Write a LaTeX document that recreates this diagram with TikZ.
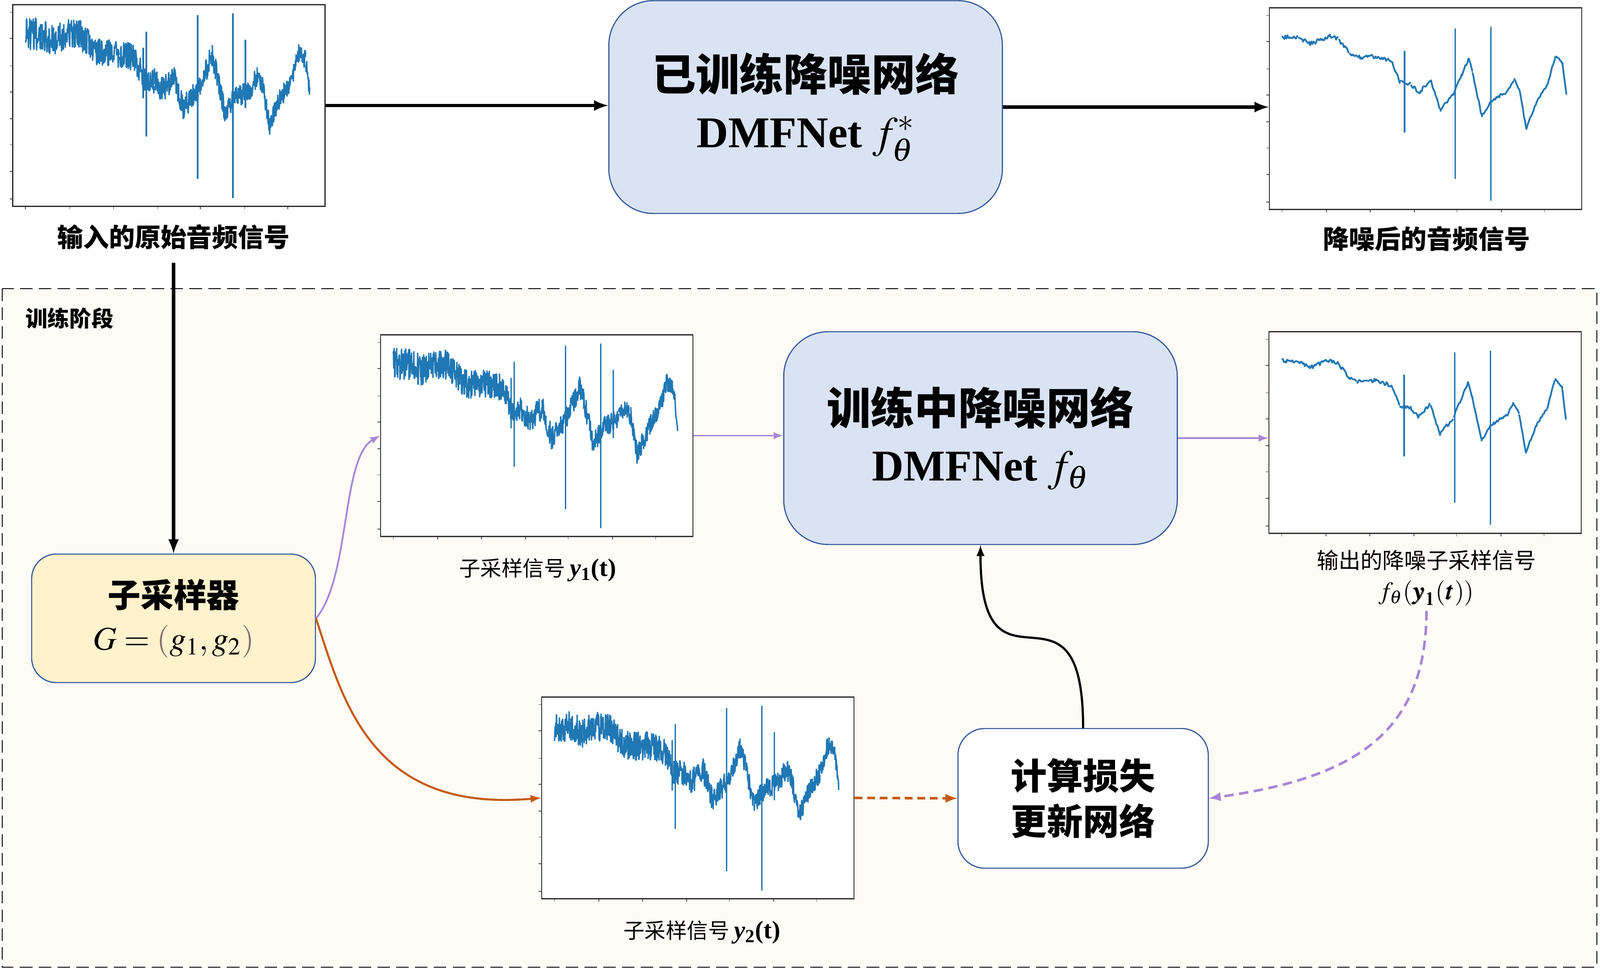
\documentclass[tikz,border=0pt]{standalone}
\usepackage{mathptmx}
\usepackage{bm}
\usepackage[no-math]{fontspec}
\setmainfont{Noto Sans CJK SC}
\newfontfamily\tnr{Liberation Serif}
\usepackage{tikz}
\tikzset{>=latex}

\definecolor{sigblue}{HTML}{1F77B4}
\definecolor{netblue}{HTML}{DAE3F3}
\definecolor{edgeblue}{HTML}{2F5597}
\definecolor{sampleryellow}{HTML}{FFF2CC}
\definecolor{stagebg}{HTML}{FFFBF7}
\definecolor{lilac}{HTML}{A886D6}
\definecolor{rust}{HTML}{C55A11}
\definecolor{parengray}{HTML}{7F7272}

\tikzset{
  plotbox/.style={draw=black!80, line width=0.8pt, fill=white, minimum width=7cm, minimum height=4.52cm, inner sep=0pt},
  netbox/.style={draw=edgeblue, line width=0.7pt, fill=netblue, rounded corners=1cm, minimum width=8.82cm, minimum height=4.77cm, align=center, font=\bfseries\fontsize{28}{36}\selectfont},
  samplerbox/.style={draw=edgeblue, line width=0.7pt, fill=sampleryellow, rounded corners=0.55cm, minimum width=6.36cm, minimum height=2.88cm, align=center, font=\fontsize{21}{27}\selectfont},
  lossbox/.style={draw=edgeblue, line width=0.7pt, fill=white, rounded corners=0.6cm, minimum width=5.61cm, minimum height=3.13cm, align=center, font=\bfseries\fontsize{23}{29}\selectfont},
  biglbl/.style={font=\bfseries\fontsize{16.5}{20}\selectfont},
  smalllbl/.style={font=\fontsize{13.5}{17}\selectfont},
  outlbl/.style={align=center, font=\fontsize{14}{19.5}\selectfont},
  stagelbl/.style={font=\bfseries\fontsize{14}{17}\selectfont},
  stagebox/.style={draw=black, line width=0.8pt, dash pattern=on 8pt off 4pt, fill=stagebg},
  bigarrow/.style={->, line width=2.1pt},
  lilacarrow/.style={->, draw=lilac, line width=1.1pt},
  rustarrow/.style={->, draw=rust, line width=1.3pt},
  noisy/.style={sigblue, line width=0.9pt, line join=round},
  clean/.style={sigblue, line width=1.1pt, line join=round},
  spike/.style={sigblue, line width=1pt},
  tick/.style={black!70, line width=0.4pt}
}

% signal trace in a unit box: #1 style, #2 noise, #3 sample step
\newcommand{\wavecurve}[3]{%
  \foreach \kx/\ky [remember=\kx as \px (initially 0.043), remember=\ky as \py (initially 0.858)] in
    {0.094/0.858, 0.133/0.825, 0.197/0.863, 0.223/0.847, 0.258/0.78, 0.283/0.758, 0.343/0.762,
     0.395/0.736, 0.42/0.633, 0.455/0.626, 0.48/0.58, 0.519/0.643, 0.549/0.493, 0.567/0.53,
     0.592/0.574, 0.618/0.67, 0.64/0.751, 0.652/0.685, 0.682/0.464, 0.712/0.538, 0.764/0.589,
     0.785/0.648, 0.803/0.596, 0.824/0.405, 0.858/0.538, 0.893/0.626, 0.918/0.766, 0.94/0.729,
     0.953/0.567}{
    \pgfmathtruncatemacro\nsamp{max(3,(\kx-\px)/#3)}
    \draw[#1] plot[domain=0:1, samples=\nsamp, variable=\s]
      ({\px+(\kx-\px)*\s}, {\py+(\ky-\py)*\s+#2*(1.25-0.6*\px)*rand});
  }}
\newcommand{\waveticks}{%
  \foreach \tk in {0.043,0.185,0.325,0.466,0.603,0.745,0.883}
    \draw[tick] (\tk,0) -- ++(0pt,-1.5pt);
  \foreach \tk in {0.04,0.177,0.309,0.438,0.571,0.70,0.836,0.965}
    \draw[tick] (0,\tk) -- ++(-1.5pt,0pt);}
\newcommand{\noisywave}[1]{%
  \begin{scope}[shift={(#1.south west)}, x=7cm, y=4.52cm]
    \wavecurve{noisy}{0.065}{0.001}
    \draw[spike] (0.42,0.79) -- (0.42,0.54);
    \draw[spike] (0.43,0.87) -- (0.43,0.35);
    \draw[spike] (0.594,0.95) -- (0.594,0.14);
    \draw[spike] (0.707,0.96) -- (0.707,0.045);
    \draw[spike] (0.747,0.83) -- (0.747,0.49);
    \waveticks
  \end{scope}}
\newcommand{\cleanwave}[1]{%
  \begin{scope}[shift={(#1.south west)}, x=7cm, y=4.52cm]
    \wavecurve{clean}{0.009}{0.003}
    \draw[spike] (0.435,0.79) -- (0.435,0.385);
    \draw[spike] (0.597,0.9) -- (0.597,0.155);
    \draw[spike] (0.711,0.91) -- (0.711,0.047);
    \waveticks
  \end{scope}}

\begin{document}
\begin{tikzpicture}
    \useasboundingbox (0,0) rectangle (35.86,-21.72);
    \draw[stagebox] (0.05,-6.47) rectangle (35.79,-21.68);
    \node[stagelbl, anchor=west] (stage) at (0.45,-7.14) {训练阶段};

    % signal plots
    \node[plotbox] (in) at (3.785,-2.365) {};
    \node[plotbox] (out) at (31.95,-2.435) {};
    \node[plotbox] (y1) at (12.03,-9.765) {};
    \node[plotbox] (fy1) at (31.94,-9.695) {};
    \node[plotbox] (y2) at (15.64,-17.885) {};
    \noisywave{in}
    \cleanwave{out}
    \noisywave{y1}
    \cleanwave{fy1}
    \noisywave{y2}

    \node[biglbl] (inlbl) at (3.89,-5.31) {输入的原始音频信号};
    \node[biglbl] (outlbl) at (31.97,-5.35) {降噪后的音频信号};
    \node[smalllbl] (y1lbl) at (12.05,-12.78) {子采样信号\ {\tnr\fontsize{16}{17}\selectfont\bfseries\itshape y}{\tnr\fontsize{16}{17}\selectfont\bfseries\textsubscript{1}(t)}};
    \node[smalllbl] (y2lbl) at (15.73,-20.90) {子采样信号\ {\tnr\fontsize{16}{17}\selectfont\bfseries\itshape y}{\tnr\fontsize{16}{17}\selectfont\bfseries\textsubscript{2}(t)}};
    \node[outlbl] (fy1lbl) at (31.97,-12.95) {输出的降噪子采样信号\\{\fontsize{16}{19.5}\selectfont$f_{\theta}(\bm{y}_{\bm{1}}(\bm{t}))$}};

    % networks and blocks
    \node[netbox] (trained) at (18.055,-2.40) {已训练降噪网络\\{\tnr\bfseries DMFNet} $f^{*}_{\theta}$};
    \node[netbox] (training) at (21.975,-9.82) {训练中降噪网络\\{\tnr\bfseries DMFNet} $f_{\theta}$};
    \node[samplerbox] (sampler) at (3.89,-13.86) {\textbf{子采样器}\\$G=\textcolor{parengray}{(}g_{1},g_{2}\textcolor{parengray}{)}$};
    \node[lossbox] (loss) at (24.275,-17.895) {计算损失\\更新网络};

    % connectors
    \draw[bigarrow] (in.east) -- (in.east -| trained.west);
    \draw[bigarrow] (trained.east) -- (trained.east -| out.west);
    \draw[bigarrow, shorten <=5pt] (inlbl.south) -- (sampler.north);
    \draw[lilacarrow] (sampler.east) to[out=50, in=210, out distance=1.2cm, in distance=1cm] (y1.west);
    \draw[lilacarrow] (y1.east) -- (y1.east -| training.west);
    \draw[lilacarrow] (training.east) -- (training.east -| fy1.west);
    \draw[lilacarrow, line width=1.6pt, dash pattern=on 6pt off 3.5pt] (fy1lbl.south) to[out=-90, in=8, out distance=2.8cm, in distance=3.2cm] (loss.east);
    \draw[rustarrow] (sampler.east) to[out=-72, in=185, out distance=2cm, in distance=3.8cm] (y2.west);
    \draw[rustarrow, line width=1.6pt, dash pattern=on 5pt off 3pt] (y2.east) -- (loss.west);
    \draw[->, line width=1.4pt] (loss.north) to[out=90, in=-90, distance=3.8cm] (training.south);
\end{tikzpicture}
\end{document}
